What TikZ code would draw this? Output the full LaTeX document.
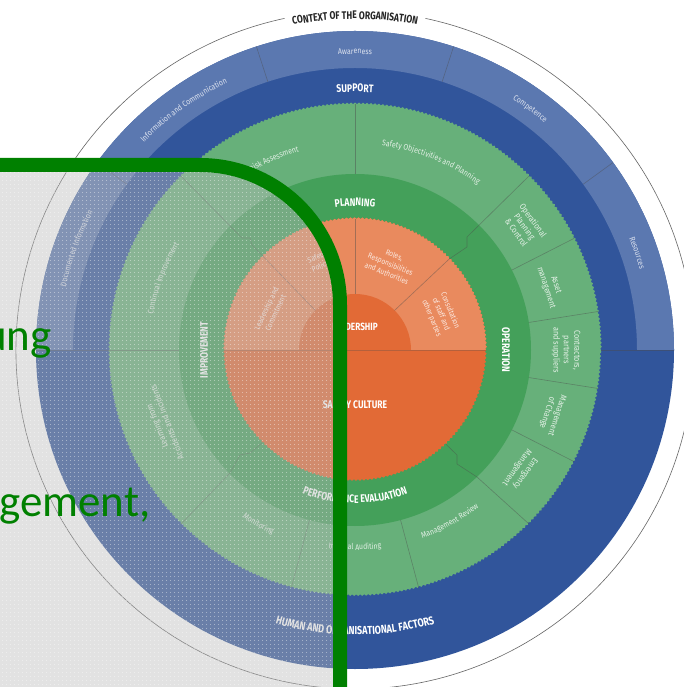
\documentclass[tikz,border=0pt]{standalone}
\usepackage{fontspec}
\usetikzlibrary{decorations.pathmorphing,decorations.text,patterns.meta}
\newfontfamily\cf[FakeStretch=0.78]{Fira Sans}
\newfontfamily\cfs[FakeStretch=0.85]{Fira Sans}
\newfontfamily\carl{Carlito}
\definecolor{dblue}{RGB}{49,85,155}
\definecolor{lblue}{RGB}{91,120,176}
\definecolor{lgreen}{RGB}{103,176,122}
\definecolor{mgreen}{RGB}{68,160,90}
\definecolor{lorange}{RGB}{233,138,94}
\definecolor{dorange}{RGB}{226,106,54}
\definecolor{frame}{RGB}{0,128,0}
\definecolor{ovl}{RGB}{186,186,186}
\newcommand\fsm{\cfs\fontsize{8.2}{9.5}\selectfont}
\newcommand\fml{\cfs\fontsize{8.6}{10.4}\selectfont}
\newcommand\for{\cfs\fontsize{7.8}{10}\selectfont}
\newcommand\fbg{\cf\bfseries\fontsize{11}{12}\selectfont}
\newcommand\arctext[6]{\path[decorate,decoration={text along path,text={|#1|#6},text align=center,text color=#2}] (#4:#3) arc[start angle=#4,end angle=#5,radius=#3];}
\begin{document}
\begin{tikzpicture}[x=1pt,y=1pt,
  dv/.style={draw=black!70, draw opacity=0.45, line width=0.6pt},
  lab/.style={font=\fml, text=white!82!lgreen, align=center, inner sep=0pt},
  olab/.style={font=\for, text=white!80!lorange, align=center, inner sep=0pt},
  bl/.style={font=\fbg, text=white, inner sep=0pt},
  wavy/.style={decorate, decoration={snake, segment length=4pt, amplitude=0.8pt}},
  bigword/.style={anchor=base east, inner sep=0pt, text=frame, font=\carl\fontsize{45}{45}\selectfont}]
\useasboundingbox (-355,-337) rectangle (329,350);
\clip (-355,-337) rectangle (329,350);
\fill[white] (-355,-337) rectangle (329,350);
% context circle
\draw[black!60, line width=0.6pt] (78:339) arc[start angle=78,end angle=-258,radius=339];
\arctext{\cf\bfseries\fontsize{11}{12}\selectfont}{black!85}{331}{104}{76}{CONTEXT OF THE ORGANISATION}
% blue rings
\fill[dblue] (0,0) circle[radius=319];
\fill[lblue] (0:282) arc[start angle=0,end angle=180,radius=282] -- (180:319) arc[start angle=180,end angle=0,radius=319] -- cycle;
\foreach \a in {36,72,108,144} \draw[dv] (\a:282) -- (\a:319);
% green rings
\fill[lgreen, wavy] (0,0) circle[radius=246];
\fill[mgreen] (0,0) circle[radius=176];
% orange
\fill[dorange, wavy] (0,0) circle[radius=131];
\begin{scope}
\clip (-140,0) rectangle (140,140);
\fill[lorange, wavy] (0,0) circle[radius=131];
\end{scope}
\fill[dorange] (56,0) arc[start angle=0,end angle=180,radius=56] -- cycle;
% dividers
\draw[dv] (-319,0) -- (-246,0) (246,0) -- (319,0);
\draw[dv] (-246,0) -- (-176,0);
\draw[dv, draw opacity=0.3] (-131,0) -- (131,0);
\draw[dv] (90:176) -- (90:246) (90:56) -- (90:131);
\foreach \a in {27,9,-9,-27,-75,-105} \draw[dv] (\a:176) -- (\a:246);
\draw[dv] (45:246) -- (112,113) -- (112,103) -- (44:131) -- (45:56);
\draw[dv] (135:246) -- (-113,112) -- (-105,112) -- (-103,105) -- (135:56);
\draw[dv] (-45:246) -- (122,-127) -- (102,-114) -- (102,-105) -- (-46:131);
\draw[dv] (-135:246) -- (-125,-123) -- (-115,-105) -- (-105,-103) -- (-135:131);
% blue ring labels
\arctext{\fsm}{white!78!lblue}{296}{108}{72}{Awareness}
\arctext{\fsm}{white!78!lblue}{296}{144}{107}{Information and Communication}
\arctext{\fsm}{white!78!lblue}{296}{72}{36}{Competence}
\arctext{\fsm}{white!78!lblue}{296}{37}{1}{Resources}
\arctext{\fsm}{white!78!lblue}{296}{178}{142}{Documented Information}
\arctext{\fbg}{white}{258}{115}{65}{SUPPORT}
\arctext{\cf\bfseries\fontsize{11.5}{12}\selectfont}{white}{285}{228}{312}{HUMAN AND ORGANISATIONAL FACTORS}
% green ring labels
\arctext{\fsm}{white!80!lgreen}{206}{131}{95}{Risk Assessment}
\arctext{\fsm}{white!80!lgreen}{206}{90}{46}{Safety Objectivities and Planning}
\arctext{\fsm}{white!80!lgreen}{205}{178}{141}{Continual Improvement}
\arctext{\fsm}{white!80!lgreen}{200}{-76}{-46}{Management Review}
\arctext{\fsm}{white!80!lgreen}{200}{-105}{-75}{Internal Auditing}
\arctext{\fsm}{white!80!lgreen}{202}{-134}{-104}{Monitoring}
\arctext{\fbg}{white}{144}{125}{55}{PLANNING}
\arctext{\fbg}{white}{153}{215}{325}{PERFORMANCE EVALUATION}
\node[lab, rotate=-54] (opc) at (36:210) {Operational\\Planning\\\& Control};
\node[lab, rotate=-72] (asm) at (18:206) {Asset\\management};
\node[lab, rotate=-90] (cps) at (0:211) {Contractors,\\partners\\and suppliers};
\node[lab, rotate=-108] (moc) at (-18:207) {Management\\of Change};
\node[lab, rotate=-126] (emg) at (-36:205) {Emergency\\Management};
\node[lab, rotate=111] (lfa) at (201:207) {Learning from\\Accidents and Incidents};
\node[bl, rotate=-90] (opr) at (0:151) {OPERATION};
\node[bl, rotate=90] (imp) at (180:151) {IMPROVEMENT};
% orange labels
\node[olab, rotate=65] (lac) at (155:93) {Leadership and\\Commitment};
\node[olab, rotate=22.5] (spo) at (112.5:95) {Safety\\Policy};
\node[olab, rotate=-22.5] (rra) at (67.5:93) {Roles,\\Responsibilities\\and Authorities};
\node[olab, rotate=-67.5] (csp) at (22.5:93) {Consultation\\of staff and\\other parties};
\node[bl, font=\cf\bfseries\fontsize{10.5}{12}\selectfont] (ldr) at (0,23) {LEADERSHIP};
\node[bl] (sfc) at (0,-55) {SAFETY CULTURE};
% overlay
\fill[ovl, fill opacity=0.42, rounded corners=140pt] (-500,-500) -- (-500,185) -- (-15,185) -- (-15,-500) -- cycle;
\fill[pattern={Dots[distance=4pt,radius=0.55pt]}, pattern color=white, fill opacity=0.7, rounded corners=140pt] (-500,-500) -- (-500,185) -- (-15,185) -- (-15,-500) -- cycle;
\draw[frame, line width=14pt, rounded corners=140pt] (-500,185) -- (-15,185) -- (-15,-500);
\node[bigword] (w1) at (-303,-1) {ung};
\node[bigword, anchor=base west] (w2) at (-356,-166) {gement,};
\end{tikzpicture}
\end{document}
